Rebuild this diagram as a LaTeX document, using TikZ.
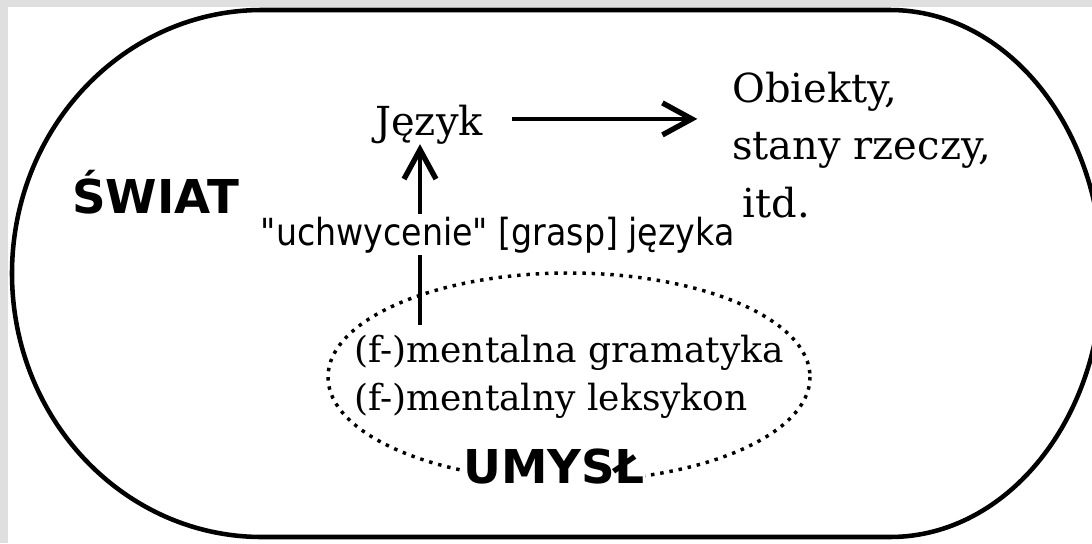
\documentclass[tikz,border=0pt]{standalone}
\usepackage{fontspec}
\setmainfont{DejaVu Serif}
\newfontfamily\sansfont{DejaVu Sans}
\usetikzlibrary{arrows.meta}
\definecolor{framegray}{RGB}{223,223,223}

\begin{document}
\begin{tikzpicture}[x=0.75pt,y=-0.75pt, every node/.style={inner sep=0pt},
  world/.style={line width=3.4pt},
  mindline/.style={line width=2.6pt,dash pattern=on 2.6pt off 4.4pt},
  arr/.style={-{Straight Barb[length=22pt,width=24pt,line width=4pt]},line width=3.4pt},
  big/.style={font=\sansfont\bfseries\fontsize{35}{40}\selectfont},
  serif/.style={font=\fontsize{30}{43}\selectfont,align=left}]
\clip (0,0) rectangle (1092,543);
\fill[framegray] (0,0) rectangle (1092,543);
\fill[white] (8,7) rectangle (1092,543);
% swiat
\draw[world] (262,10) -- (890,10) arc[start angle=-90,end angle=90,x radius=212,y radius=263.5] -- (262,537) arc[start angle=90,end angle=270,x radius=250,y radius=263.5] -- cycle;
\node[big,anchor=base west] (swiat) at (72,213) {ŚWIAT};
\node[serif,anchor=base west] (jezyk) at (375,135) {Język};
\node[serif,anchor=base west] (obiekty) at (732,217) {Obiekty,\\stany rzeczy,\\\hspace*{8pt}itd.};
% umysl
\node[font=\fontsize{27}{36}\selectfont,align=left] (umysl) at (569,377) {(f-)mentalna gramatyka\\(f-)mentalny leksykon};
\draw[mindline] (umysl) ellipse[x radius=241,y radius=104];
\node[big,fill=white,anchor=base west] (umysltxt) at (463,483) {UMYSŁ};
% strzalki
\coordinate (chwytdol) at (420,325);
\draw[arr] (chwytdol) -- (chwytdol |- jezyk.south);
\draw[arr,shorten <=22pt,shorten >=26pt] ([yshift=4pt]jezyk.east) -- ([yshift=4pt]jezyk.east -| obiekty.west);
\node[font=\sansfont\fontsize{28}{30}\selectfont,fill=white,inner sep=2pt,anchor=base west] (chwyt) at (258,245) {\scalebox{0.89}[1]{"uchwycenie" [grasp] języka}};
\end{tikzpicture}
\end{document}
